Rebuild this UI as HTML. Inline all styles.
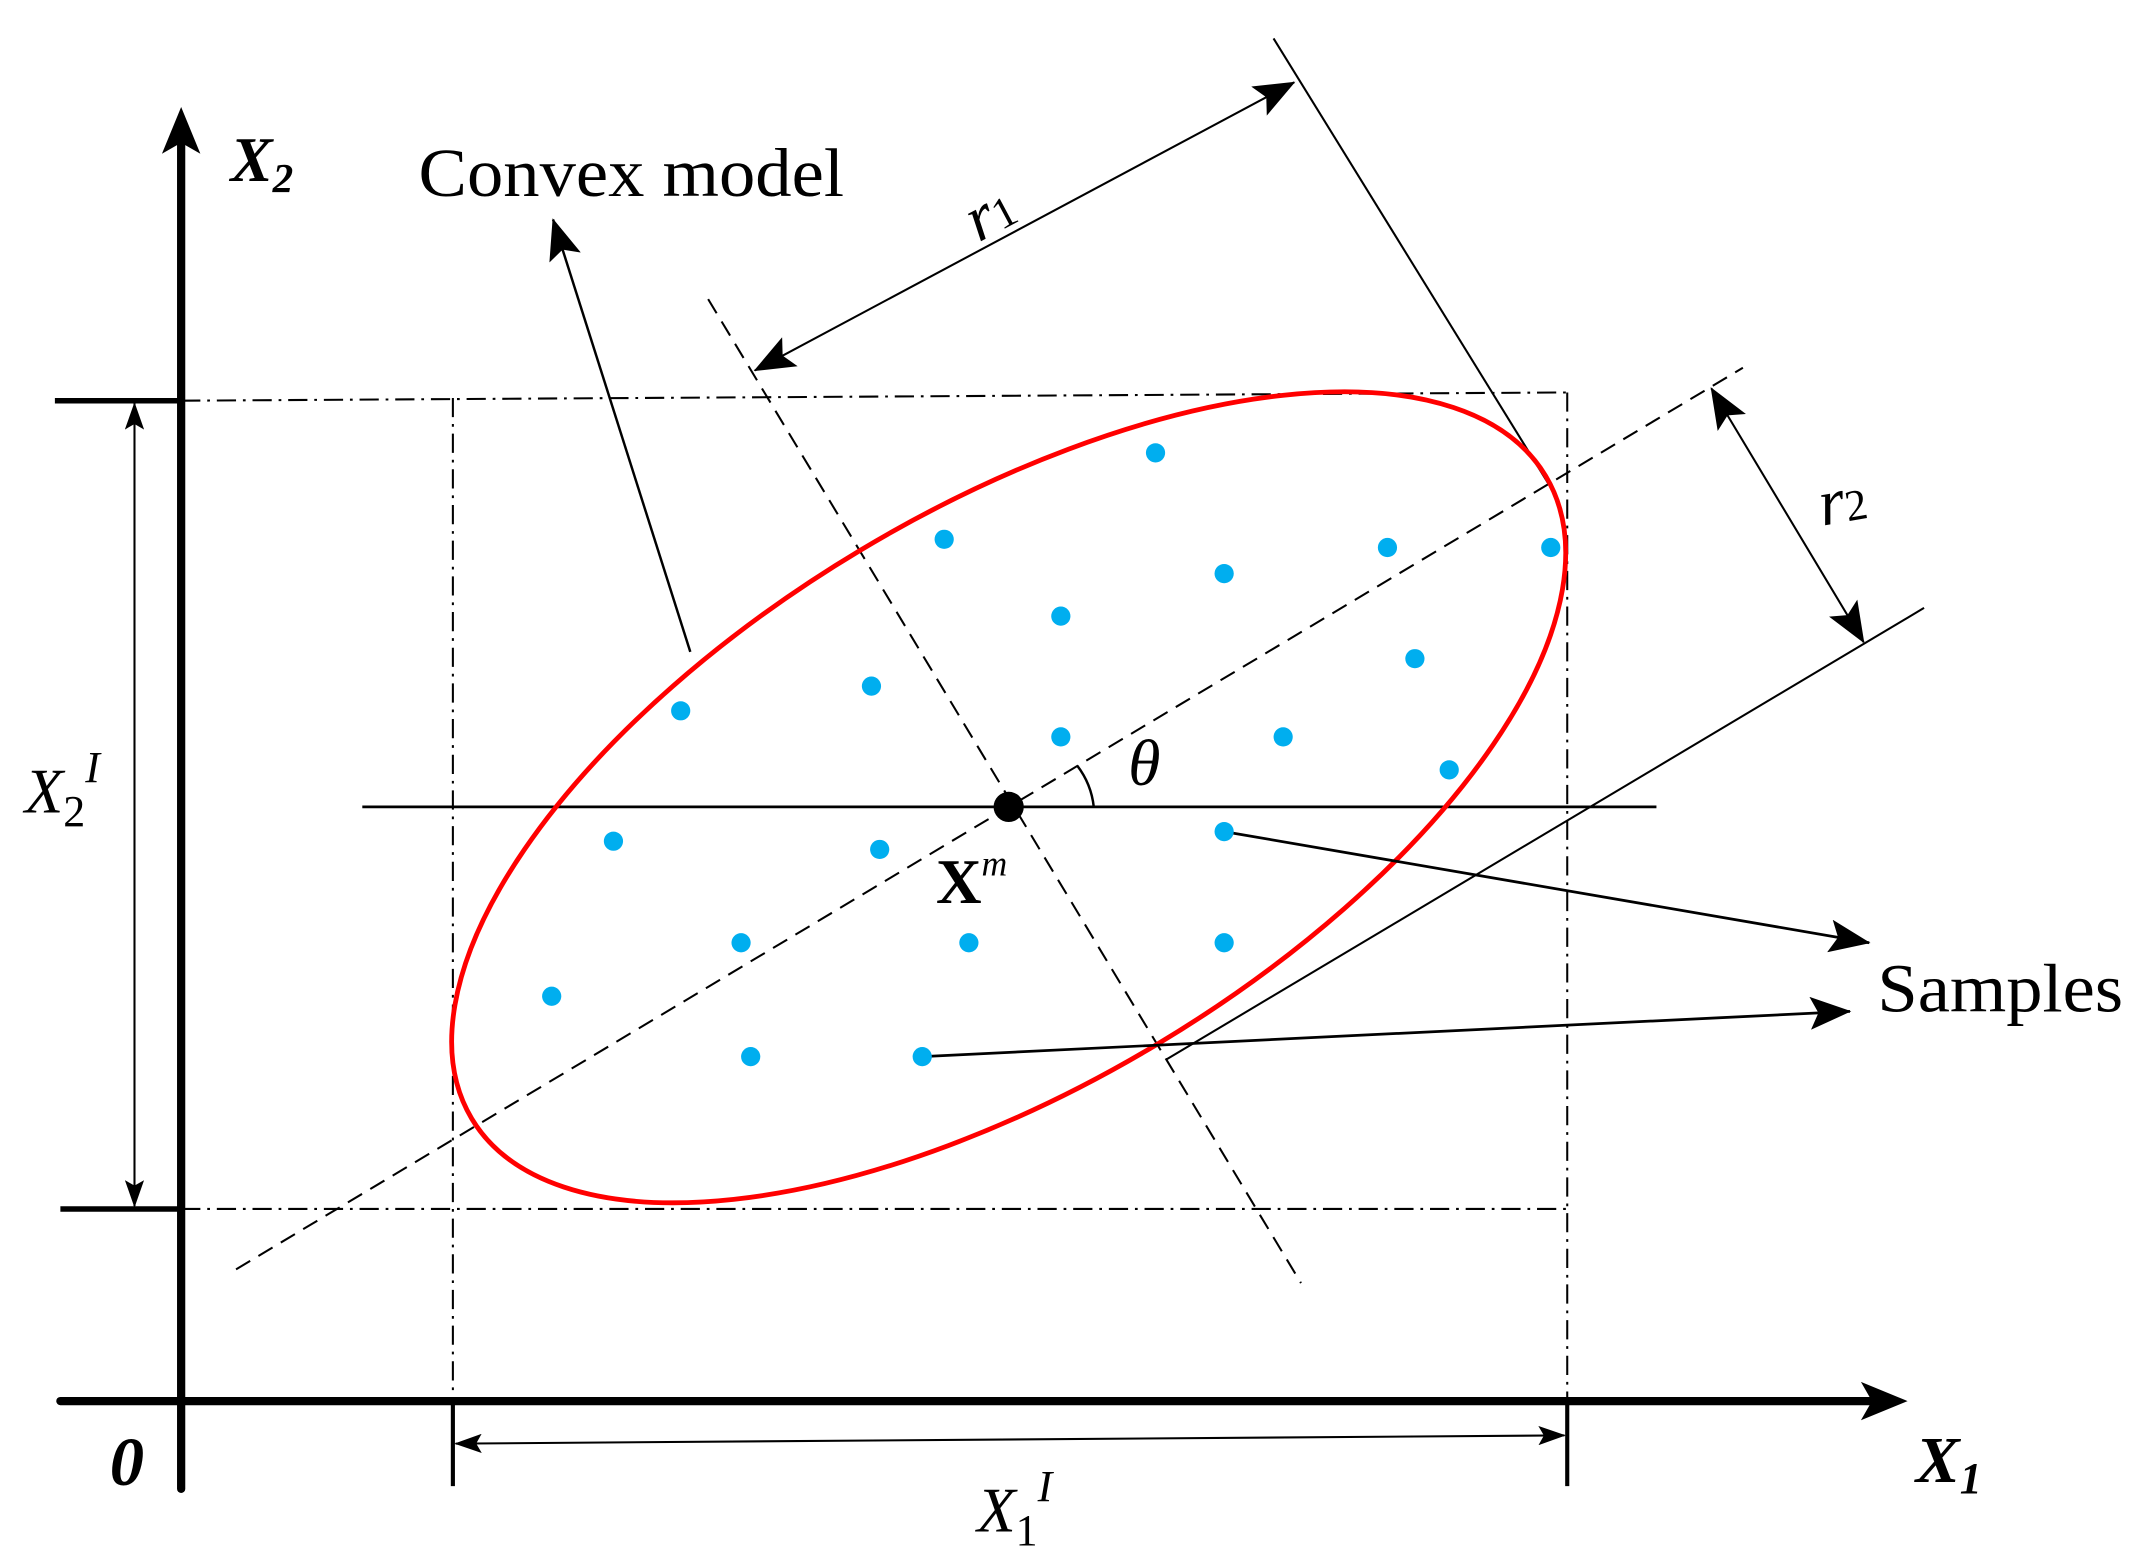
<!DOCTYPE html>
<html><head><style>html,body{margin:0;padding:0;background:#fff}svg{display:block}</style></head>
<body>
<svg width="2145" height="1563" viewBox="0 0 1563 1139" preserveAspectRatio="none" xmlns="http://www.w3.org/2000/svg" font-family="Liberation Serif, serif">
<defs>
<marker id="a" viewBox="0 0 20 14" refX="19" refY="7" markerWidth="20" markerHeight="14" markerUnits="userSpaceOnUse" orient="auto-start-reverse"><path d="M0,0 L20,7 L0,14 L4,7 Z" fill="#000"/></marker>
<marker id="b" viewBox="0 0 30 24" refX="29" refY="12" markerWidth="30" markerHeight="24" markerUnits="userSpaceOnUse" orient="auto-start-reverse"><path d="M0,0 L30,12 L0,24 L6,12 Z" fill="#000"/></marker>
</defs>
<rect width="1563" height="1139" fill="#fff"/>
<line x1="132" y1="1085" x2="132" y2="95" stroke="#000" stroke-width="6" stroke-linecap="round"/>
<path d="M132,78 L118,112 L132,104 L146,112 Z" fill="#000"/>
<line x1="44" y1="1021" x2="1370" y2="1021" stroke="#000" stroke-width="6" stroke-linecap="round"/>
<path d="M1390,1021 L1356,1007 L1364,1021 L1356,1035 Z" fill="#000"/>
<line x1="40" y1="292" x2="132" y2="292" stroke="#000" stroke-width="4"/>
<line x1="44" y1="881" x2="132" y2="881" stroke="#000" stroke-width="4"/>
<line x1="330" y1="1021" x2="330" y2="1083" stroke="#000" stroke-width="3"/>
<line x1="1142" y1="1021" x2="1142" y2="1083" stroke="#000" stroke-width="3"/>
<g stroke="#000" stroke-width="1.5" fill="none" stroke-dasharray="14,5,2,5">
<line x1="132" y1="292" x2="1142" y2="286"/>
<line x1="132" y1="881" x2="1142" y2="881"/>
<line x1="330" y1="290" x2="330" y2="1021"/>
<line x1="1142" y1="286" x2="1142" y2="1021"/>
</g>
<line x1="98" y1="294" x2="98" y2="879" stroke="#000" stroke-width="1.5" marker-start="url(#a)" marker-end="url(#a)"/>
<line x1="332" y1="1052" x2="1140" y2="1046" stroke="#000" stroke-width="1.5" marker-start="url(#a)" marker-end="url(#a)"/>
<line x1="264" y1="588" x2="1207" y2="588" stroke="#000" stroke-width="2"/>
<line x1="172" y1="925" x2="1270" y2="268" stroke="#000" stroke-width="1.5" stroke-dasharray="12,7"/>
<line x1="516" y1="218" x2="948" y2="935" stroke="#000" stroke-width="1.5" stroke-dasharray="12,7"/>
<line x1="928" y1="28" x2="1128" y2="352" stroke="#000" stroke-width="1.5"/>
<line x1="850" y1="772" x2="1402" y2="443" stroke="#000" stroke-width="1.5"/>
<line x1="550" y1="270" x2="943" y2="60" stroke="#000" stroke-width="1.5" marker-start="url(#b)" marker-end="url(#b)"/>
<line x1="1247" y1="283" x2="1358" y2="468" stroke="#000" stroke-width="1.5" marker-start="url(#b)" marker-end="url(#b)"/>
<ellipse cx="735" cy="581" rx="456" ry="210" transform="rotate(-30.9 735 581)" fill="none" stroke="#f00" stroke-width="3.5"/>
<line x1="503" y1="475" x2="403" y2="160" stroke="#000" stroke-width="1.8" marker-end="url(#b)"/>
<path d="M785,558 A60,60 0 0 1 797,588" fill="none" stroke="#000" stroke-width="1.8"/>
<line x1="892" y1="606" x2="1362" y2="687" stroke="#000" stroke-width="2" marker-end="url(#b)"/>
<line x1="672" y1="770" x2="1348" y2="737" stroke="#000" stroke-width="2" marker-end="url(#b)"/>
<g fill="#00aeef">
<circle cx="842" cy="330" r="7"/><circle cx="688" cy="393" r="7"/><circle cx="892" cy="418" r="7"/>
<circle cx="1011" cy="399" r="7"/><circle cx="1130" cy="399" r="7"/><circle cx="773" cy="449" r="7"/>
<circle cx="1031" cy="480" r="7"/><circle cx="635" cy="500" r="7"/><circle cx="496" cy="518" r="7"/>
<circle cx="773" cy="537" r="7"/><circle cx="935" cy="537" r="7"/><circle cx="1056" cy="561" r="7"/>
<circle cx="447" cy="613" r="7"/><circle cx="641" cy="619" r="7"/><circle cx="892" cy="606" r="7"/>
<circle cx="540" cy="687" r="7"/><circle cx="706" cy="687" r="7"/><circle cx="892" cy="687" r="7"/>
<circle cx="402" cy="726" r="7"/><circle cx="547" cy="770" r="7"/><circle cx="672" cy="770" r="7"/>
</g>
<circle cx="735" cy="588" r="11" fill="#000"/>
<text x="168" y="132" font-size="46" font-style="italic" font-weight="bold">X<tspan font-size="30" dy="8">2</tspan></text>
<text x="305" y="143" font-size="50" textLength="310" lengthAdjust="spacingAndGlyphs">Convex model</text>
<text x="704" y="170" font-size="48" font-style="italic" transform="rotate(-28 722 155)">r<tspan font-size="32" font-style="normal">1</tspan></text>
<text x="1326" y="380" font-size="48" font-style="italic" transform="rotate(-10 1345 370)">r<tspan font-size="32" font-style="normal">2</tspan></text>
<text x="822" y="572" font-size="48" font-style="italic">θ</text>
<text x="682" y="658" font-size="46" font-weight="bold">X<tspan font-size="26" font-style="italic" font-weight="normal" dy="-20">m</tspan></text>
<text x="1368" y="737" font-size="50" textLength="179" lengthAdjust="spacingAndGlyphs">Samples</text>
<text x="18" y="592" font-size="46" font-style="italic">X<tspan font-size="32" font-style="normal" dy="10">2</tspan><tspan font-size="32" dy="-32">I</tspan></text>
<text x="712" y="1116" font-size="46" font-style="italic">X<tspan font-size="32" font-style="normal" dy="10">1</tspan><tspan font-size="32" dy="-32">I</tspan></text>
<text x="80" y="1082" font-size="50" font-style="italic" font-weight="bold">0</text>
<text x="1396" y="1080" font-size="48" font-style="italic" font-weight="bold">X<tspan font-size="32" dy="8">1</tspan></text>
</svg>
</body></html>
